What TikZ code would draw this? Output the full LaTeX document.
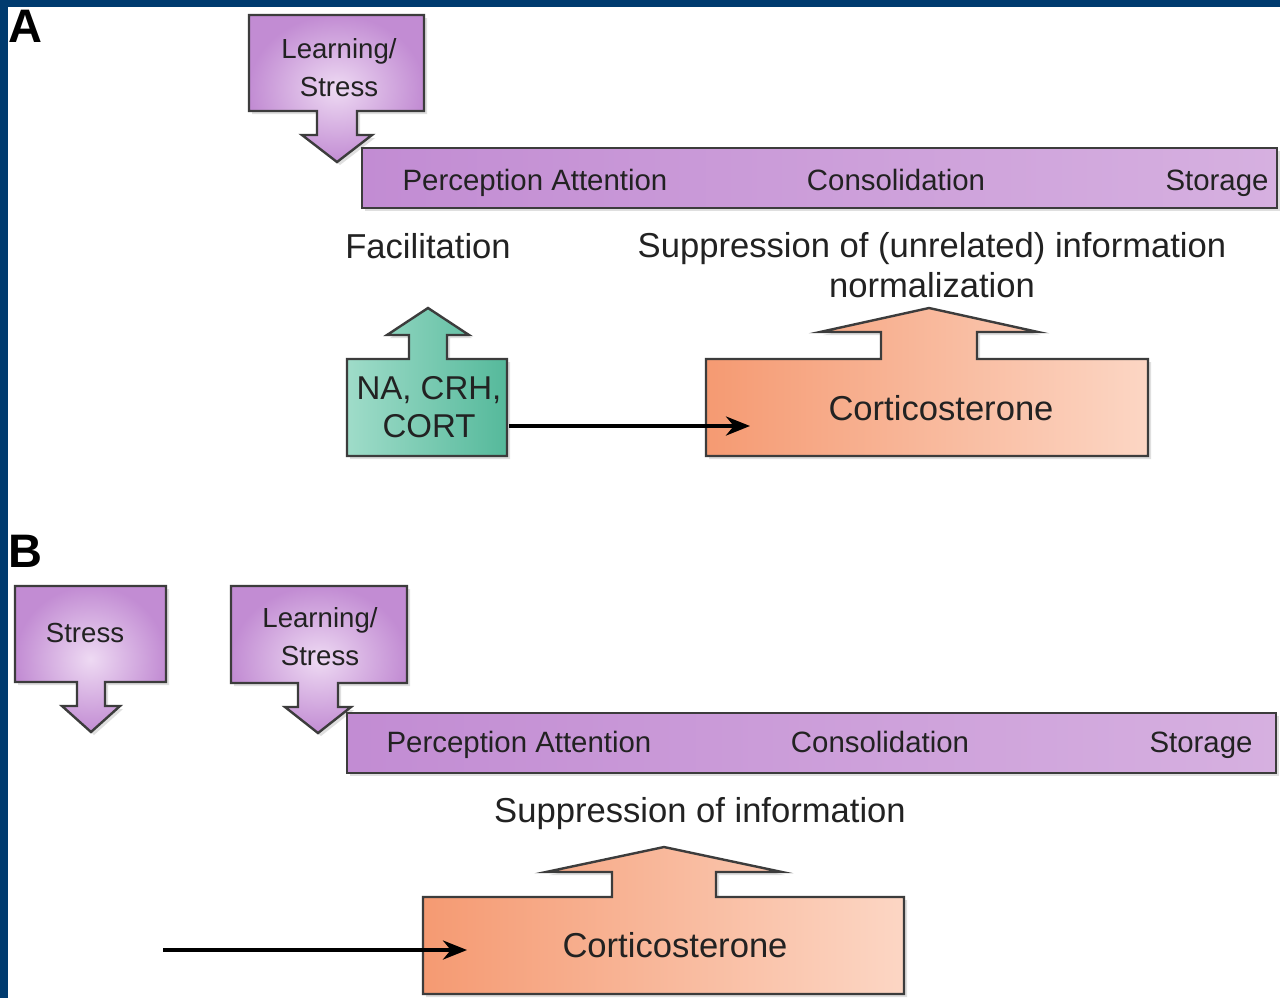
\documentclass[tikz,border=0pt]{standalone}
\usepackage{fontspec}
\setmainfont{Liberation Sans}
\usetikzlibrary{arrows.meta, shadows}

\definecolor{frameblue}{HTML}{003B6F}
\definecolor{edgegray}{HTML}{3C3C3C}
\definecolor{inkgray}{HTML}{222222}
\definecolor{purpleD}{HTML}{C28CD3}
\definecolor{purpleM}{HTML}{D6B0E0}
\definecolor{purpleL}{HTML}{EEDAF3}
\definecolor{tealD}{HTML}{55B99B}
\definecolor{tealL}{HTML}{9FDCC9}
\definecolor{salmonD}{HTML}{F59A72}
\definecolor{salmonL}{HTML}{FCD6C4}

\begin{document}
\begin{tikzpicture}[x=0.5pt, y=-0.5pt,
            % Outline and shadow shared by all boxes and bars
            outline/.style={draw=edgegray, line width=1.2pt, line join=miter,
                drop shadow={shadow xshift=1.5pt, shadow yshift=-1.5pt, opacity=0.25}},
            % Fillings for the three colour families
            purplefill/.style={inner color=purpleL, outer color=purpleD},
            barfill/.style={left color=purpleD, middle color=purpleL, right color=purpleM},
            tealfill/.style={left color=tealL, right color=tealD},
            salmonfill/.style={left color=salmonD, right color=salmonL},
            % Text styles
            boxtext/.style={text=inkgray, align=center, inner sep=0pt, font=\fontsize{13.8}{19}\selectfont},
            bartext/.style={text=inkgray, anchor=base, inner sep=0pt, font=\fontsize{14.7}{19}\selectfont},
            note/.style={text=inkgray, align=center, inner sep=0pt, font=\fontsize{17.3}{20}\selectfont},
            panel/.style={anchor=base west, inner sep=0pt, font=\fontsize{23.5}{24}\selectfont\bfseries},
            % Connector arrows
            conn/.style={line width=1.9pt, -{Stealth[length=12pt, width=9.5pt]}}
        ]

        % --- Frame: white page with blue bands on top and left ---
        \useasboundingbox (0,0) rectangle (1280,998);
        \fill[white] (0,0) rectangle (1280,998);
        \fill[frameblue] (0,0) rectangle (1280,7);
        \fill[frameblue] (0,0) rectangle (8,998);

        % --- Purple boxes with an arrow pointing down ---
        \foreach \xa/\ya/\xb/\yb/\cx/\s/\h/\hy/\ty in {249/15/424/111/337/20/35/135/162,
                                                        15/586/166/682/91/14/29/706/732,
                                                        231/586/407/683/318/20/33/707/733} {
            \draw[outline, purplefill] (\xa,\ya) -- (\xb,\ya) -- (\xb,\yb) -- ({\cx+\s},\yb)
                -- ({\cx+\s},\hy) -- ({\cx+\h},\hy) -- (\cx,\ty) -- ({\cx-\h},\hy)
                -- ({\cx-\s},\hy) -- ({\cx-\s},\yb) -- (\xa,\yb) -- cycle;
        }

        % --- Boxes with an arrow pointing up ---
        \foreach \xa/\ya/\xb/\yb/\cx/\s/\h/\hy/\ty/\fillstyle in {347/359/507/456/428/19/41/335/308/tealfill,
                                                                  706/359/1148/456/929/48/109/332/308/salmonfill,
                                                                  423/897/904/994/664/52/118/872/847/salmonfill} {
            \draw[outline, \fillstyle] (\xa,\ya) -- ({\cx-\s},\ya) -- ({\cx-\s},\hy) -- ({\cx-\h},\hy)
                -- (\cx,\ty) -- ({\cx+\h},\hy) -- ({\cx+\s},\hy) -- ({\cx+\s},\ya)
                -- (\xb,\ya) -- (\xb,\yb) -- (\xa,\yb) -- cycle;
        }

        % --- Phase bars (drawn over the arrow tips) ---
        \draw[outline, barfill] (362,148) rectangle (1277,208);
        \draw[outline, barfill] (347,713) rectangle (1276,773);

        % --- Panel A ---
        \node[panel] (labA) at (8,42) {A};
        \node[boxtext] (learnA) at (339,68) {Learning/\\Stress};
        \node[bartext] (percA) at (535,190.5) {Perception Attention};
        \node[bartext] (consA) at (896,190.5) {Consolidation};
        \node[bartext] (storA) at (1217,190.5) {Storage};
        \node[note] (facil) at (428,246) {Facilitation};
        \node[note] (suppA) at (932,265.5) {Suppression of (unrelated) information\\normalization};
        \node[boxtext, minimum width=80pt, minimum height=48.5pt, font=\fontsize{16.5}{19}\selectfont]
            (na) at (429,407.5) {NA, CRH,\\CORT};
        \node[note, anchor=base] (cortA) at (941,420) {Corticosterone};
        \coordinate (cortAin) at (750,426);
        \draw[conn] (na.east |- cortAin) -- (cortAin);

        % --- Panel B ---
        \node[panel] (labB) at (8,567) {B};
        \node[boxtext, anchor=base] (stressB) at (85,642) {Stress};
        \node[boxtext] (learnB) at (320,636.5) {Learning/\\Stress};
        \node[bartext] (percB) at (519,752.5) {Perception Attention};
        \node[bartext] (consB) at (880,752.5) {Consolidation};
        \node[bartext] (storB) at (1201,752.5) {Storage};
        \node[note, anchor=base] (suppB) at (700,822) {Suppression of information};
        \node[note, anchor=base] (cortB) at (675,957) {Corticosterone};
        \coordinate (inputB) at (163,950);
        \coordinate (cortBin) at (467,950);
        \draw[conn] (inputB) -- (cortBin);

\end{tikzpicture}
\end{document}
